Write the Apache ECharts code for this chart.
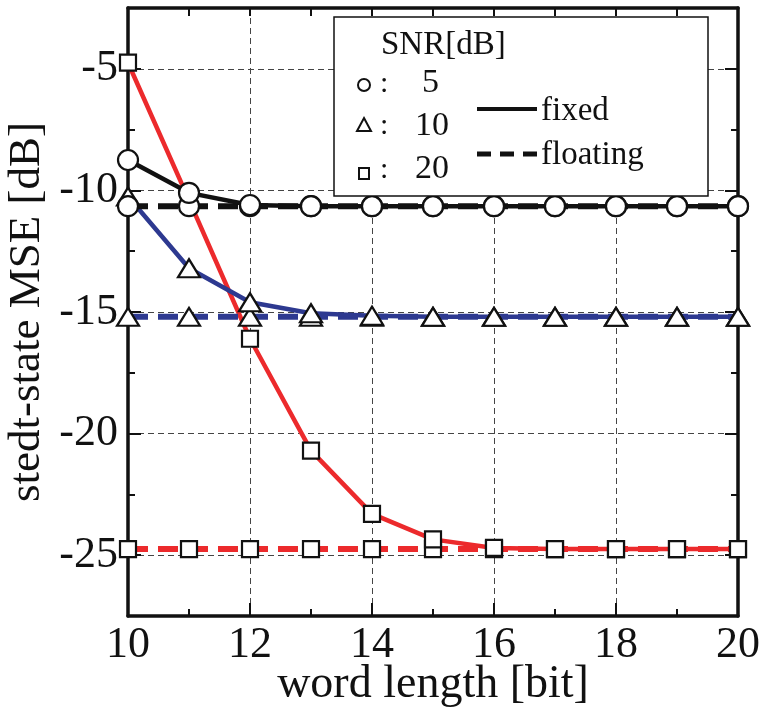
<!DOCTYPE html>
<html>
<head>
<meta charset="utf-8">
<script src="https://cdn.jsdelivr.net/npm/echarts@6/dist/echarts.min.js"></script>
<style>
html,body{margin:0;padding:0;background:#fff;}
#main{width:763px;height:713px;}
</style>
</head>
<body>
<div id="main"></div>
<script>
// ---- data ----
var wordLength = [10, 11, 12, 13, 14, 15, 16, 17, 18, 19, 20];
var snr5Fixed  = [-8.75, -10.1, -10.6, -10.65, -10.65, -10.65, -10.65, -10.65, -10.65, -10.65, -10.65];
var snr5Float  = [-10.65, -10.65, -10.65, -10.65, -10.65, -10.65, -10.65, -10.65, -10.65, -10.65, -10.65];
var snr10Fixed = [-10.25, -13.2, -14.6, -15.05, -15.15, -15.2, -15.2, -15.2, -15.2, -15.2, -15.2];
var snr10Float = [-15.2, -15.2, -15.2, -15.2, -15.2, -15.2, -15.2, -15.2, -15.2, -15.2, -15.2];
var snr20Fixed = [-4.75, -10.4, -16.1, -20.7, -23.3, -24.35, -24.7, -24.75, -24.75, -24.75, -24.75];
var snr20Float = [-24.75, -24.75, -24.75, -24.75, -24.75, -24.75, -24.75, -24.75, -24.75, -24.75, -24.75];
var xTickLabels = ['10', '12', '14', '16', '18', '20'];
var yTickLabels = ['-25', '-20', '-15', '-10', '-5'];
var legendTitle = 'SNR[dB]';
var legendSnr = ['5', '10', '20'];
var legendStyle = ['fixed', 'floating'];

function pairs(ys) { return wordLength.map(function (x, i) { return [x, ys[i]]; }); }

var FONT = 'Liberation Serif';
var RED = '#ec2a2c', BLUE = '#2d3990', BLACK = '#111';

function mkSeries(name, ys, color, dashed, symbol, size, z) {
  return {
    name: name, type: 'line', data: pairs(ys), clip: false, z: z,
    symbol: symbol, symbolSize: size, showAllSymbol: true,
    lineStyle: dashed ? { color: color, width: 6, type: [20, 10] } : { color: color, width: 4.5 },
    itemStyle: { color: '#fff', borderColor: '#111', borderWidth: 2.2, opacity: 1 },
    emphasis: { disabled: true }, animation: false
  };
}

var chart = echarts.init(document.getElementById('main'), null, { renderer: 'canvas' });

var gridLine = { show: true, lineStyle: { color: '#444', width: 1, type: [6, 4] } };
var xBase = { type: 'value', min: 10, max: 20, interval: 2 };
var yBase = { type: 'value', min: -27.5, max: -2.5 };

var option = {
  animation: false,
  backgroundColor: '#fff',
  grid: { left: 128, right: 25, top: 8, bottom: 97, containLabel: false, outerBoundsMode: 'none' },
  xAxis: [
    Object.assign({}, xBase, {
      position: 'bottom',
      name: 'word length [bit]', nameLocation: 'middle', nameGap: 46, nameMoveOverlap: false,
      nameTextStyle: { fontFamily: FONT, fontSize: 46, color: '#111' },
      axisLine: { show: true, lineStyle: { color: '#111', width: 3.5 } },
      axisTick: { show: true, inside: true, length: 13, lineStyle: { color: '#111', width: 2 } },
      minorTick: { show: true, splitNumber: 2, length: 7, lineStyle: { color: '#111', width: 2 } },
      axisLabel: { fontFamily: FONT, fontSize: 44, color: '#111', margin: 7,
        formatter: function (v) { var s = String(v); return xTickLabels.indexOf(s) >= 0 ? s : ''; } },
      splitLine: gridLine
    }),
    Object.assign({}, xBase, {
      position: 'top',
      axisLine: { show: true, lineStyle: { color: '#111', width: 3.5 } },
      axisTick: { show: true, inside: true, length: 8, lineStyle: { color: '#111', width: 2 } },
      minorTick: { show: true, splitNumber: 2, length: 8, lineStyle: { color: '#111', width: 2 } },
      axisLabel: { show: false }, splitLine: { show: false }
    })
  ],
  yAxis: [
    Object.assign({}, yBase, {
      interval: 2.5, position: 'left',
      name: 'stedt-state MSE [dB]', nameLocation: 'middle', nameGap: 78, nameRotate: 90, nameMoveOverlap: false,
      nameTextStyle: { fontFamily: FONT, fontSize: 45, color: '#111' },
      axisLine: { show: true, lineStyle: { color: '#111', width: 3.5 } },
      axisTick: { show: true, inside: true, length: 7, lineStyle: { color: '#111', width: 2 } },
      axisLabel: { fontFamily: FONT, fontSize: 44, color: '#111', margin: 10,
        formatter: function (v) { var s = String(v); return yTickLabels.indexOf(s) >= 0 ? s : ''; } },
      splitLine: { show: false }
    }),
    Object.assign({}, yBase, {
      position: 'left',
      axisLine: { show: false },
      axisTick: { show: true, inside: true, length: 13, lineStyle: { color: '#111', width: 2 } },
      axisLabel: { show: false },
      splitLine: gridLine
    }),
    Object.assign({}, yBase, {
      interval: 2.5, position: 'right',
      axisLine: { show: true, lineStyle: { color: '#111', width: 3.5 } },
      axisTick: { show: true, inside: true, length: 7, lineStyle: { color: '#111', width: 2 } },
      axisLabel: { show: false }, splitLine: { show: false }
    }),
    Object.assign({}, yBase, {
      position: 'right',
      axisLine: { show: false },
      axisTick: { show: true, inside: true, length: 13, lineStyle: { color: '#111', width: 2 } },
      axisLabel: { show: false }, splitLine: { show: false }
    })
  ],
  series: [
    mkSeries('SNR20 floating', snr20Float, RED, true, 'rect', 16, 3),
    mkSeries('SNR20 fixed', snr20Fixed, RED, false, 'rect', 16, 3),
    mkSeries('SNR10 floating', snr10Float, BLUE, true, 'triangle', [22, 18], 4),
    mkSeries('SNR10 fixed', snr10Fixed, BLUE, false, 'triangle', [22, 18], 4),
    mkSeries('SNR5 floating', snr5Float, BLACK, true, 'circle', 20, 5),
    mkSeries('SNR5 fixed', snr5Fixed, BLACK, false, 'circle', 20, 5)
  ],
  graphic: {
    elements: [
      { type: 'rect', z: 50, shape: { x: 334, y: 17, width: 374, height: 179 },
        style: { fill: '#fff', stroke: '#111', lineWidth: 1.5 } },
      { type: 'text', z: 51, style: { x: 381, y: 45, text: legendTitle, font: '33px "Liberation Serif"', fill: '#111', verticalAlign: 'middle', align: 'left' } },
      { type: 'circle', z: 51, shape: { cx: 364, cy: 85, r: 6 }, style: { fill: '#fff', stroke: '#111', lineWidth: 2 } },
      { type: 'polygon', z: 51, shape: { points: [[364, 118], [371, 131], [357, 131]] }, style: { fill: '#fff', stroke: '#111', lineWidth: 2 } },
      { type: 'rect', z: 51, shape: { x: 359, y: 168, width: 10, height: 11 }, style: { fill: '#fff', stroke: '#111', lineWidth: 2 } },
      { type: 'text', z: 51, style: { x: 380, y: 84, text: ':', font: '30px "Liberation Serif"', fill: '#111', verticalAlign: 'middle' } },
      { type: 'text', z: 51, style: { x: 380, y: 126, text: ':', font: '30px "Liberation Serif"', fill: '#111', verticalAlign: 'middle' } },
      { type: 'text', z: 51, style: { x: 380, y: 170, text: ':', font: '30px "Liberation Serif"', fill: '#111', verticalAlign: 'middle' } },
      { type: 'text', z: 51, style: { x: 422, y: 83, text: legendSnr[0], font: '34px "Liberation Serif"', fill: '#111', verticalAlign: 'middle' } },
      { type: 'text', z: 51, style: { x: 415, y: 126, text: legendSnr[1], font: '34px "Liberation Serif"', fill: '#111', verticalAlign: 'middle' } },
      { type: 'text', z: 51, style: { x: 415, y: 169, text: legendSnr[2], font: '34px "Liberation Serif"', fill: '#111', verticalAlign: 'middle' } },
      { type: 'line', z: 51, shape: { x1: 477, y1: 109, x2: 537, y2: 109 }, style: { stroke: '#111', lineWidth: 4 } },
      { type: 'line', z: 51, shape: { x1: 477, y1: 154, x2: 537, y2: 154 }, style: { stroke: '#111', lineWidth: 5, lineDash: [14, 9] } },
      { type: 'text', z: 51, style: { x: 541, y: 111, text: legendStyle[0], font: '33px "Liberation Serif"', fill: '#111', verticalAlign: 'middle' } },
      { type: 'text', z: 51, style: { x: 541, y: 155, text: legendStyle[1], font: '33px "Liberation Serif"', fill: '#111', verticalAlign: 'middle' } }
    ]
  }
};
chart.setOption(option);
</script>
</body>
</html>
